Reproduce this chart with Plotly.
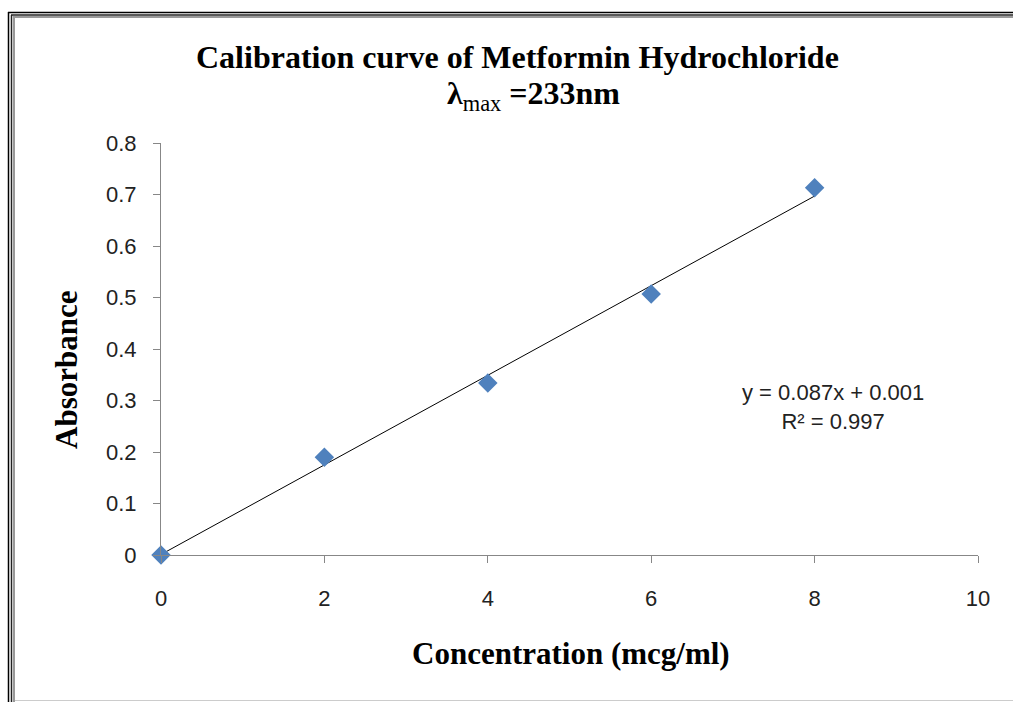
import plotly.graph_objects as go

# ---- data ----
concentration = [0, 2, 4, 6, 8]
absorbance = [0.0, 0.190, 0.334, 0.507, 0.713]
fit_slope = 0.087
fit_intercept = 0.001
fit_x = [0, 8]
x_ticks = [0, 2, 4, 6, 8, 10]
y_ticks = [0, 0.1, 0.2, 0.3, 0.4, 0.5, 0.6, 0.7, 0.8]
y_tick_labels = ["0", "0.1", "0.2", "0.3", "0.4", "0.5", "0.6", "0.7", "0.8"]
equation_text = "y = 0.087x + 0.001<br>R² = 0.997"

W, H = 1013, 702
L, R, T, B = 161, 35, 143, 147
PW, PH = W - L - R, H - T - B


def px(x):
    return (x - L) / PW


def py(y):
    return (H - B - y) / PH


fig = go.Figure()

fig.add_trace(go.Scatter(
    x=fit_x,
    y=[fit_slope * v + fit_intercept for v in fit_x],
    mode="lines",
    line=dict(color="#000000", width=1),
    hoverinfo="skip",
    showlegend=False,
))

fig.add_trace(go.Scatter(
    x=concentration, y=absorbance, mode="markers",
    marker=dict(symbol="diamond", size=15, color="#4F81BD",
                line=dict(width=0)),
    cliponaxis=False,
    showlegend=False,
))

axis_color = "#878787"
tick_font = dict(family="Liberation Sans", size=22, color="#222222")

fig.update_xaxes(
    range=[0, 10], tickvals=x_ticks, ticktext=[str(v) for v in x_ticks],
    showgrid=False, zeroline=False, showline=True, linecolor=axis_color,
    linewidth=1, ticks="outside", ticklen=7, tickcolor=axis_color,
    tickfont=tick_font, ticklabelstandoff=17,
)
fig.update_yaxes(
    range=[0, 0.8], tickvals=y_ticks, ticktext=y_tick_labels,
    showgrid=False, zeroline=False, showline=True, linecolor=axis_color,
    linewidth=1, ticks="outside", ticklen=7, tickcolor=axis_color,
    tickfont=tick_font, ticklabelstandoff=12,
)

serif_bold = dict(family="Liberation Serif", size=32, color="#000000", weight="bold")

annotations = [
    dict(text="Calibration curve of Metformin Hydrochloride",
         x=px(517), y=py(57), xref="paper", yref="paper",
         showarrow=False, font=serif_bold, xanchor="center", yanchor="middle"),
    dict(text="λ<sub><span style='font-weight:normal'>max</span></sub> =233nm",
         x=px(533), y=py(95), xref="paper", yref="paper",
         showarrow=False, font=serif_bold, xanchor="center", yanchor="middle"),
    dict(text="Absorbance", textangle=-90,
         x=px(66), y=py(370), xref="paper", yref="paper",
         showarrow=False, font=dict(serif_bold, size=31),
         xanchor="center", yanchor="middle"),
    dict(text="Concentration (mcg/ml)",
         x=px(571), y=py(653), xref="paper", yref="paper",
         showarrow=False, font=dict(serif_bold, size=31),
         xanchor="center", yanchor="middle"),
    dict(text=equation_text,
         x=px(833), y=py(407), xref="paper", yref="paper",
         showarrow=False, align="center",
         font=dict(family="Liberation Sans", size=22, color="#222222"),
         xanchor="center", yanchor="middle"),
]

shapes = [
    # outer black frame line
    dict(type="line", xref="paper", yref="paper", x0=px(8), x1=px(1020),
         y0=py(12.5), y1=py(12.5), line=dict(color="#000000", width=1.5)),
    dict(type="line", xref="paper", yref="paper", x0=px(8.5), x1=px(8.5),
         y0=py(12), y1=py(710), line=dict(color="#000000", width=1.5)),
    # inner black line
    dict(type="line", xref="paper", yref="paper", x0=px(11), x1=px(1020),
         y0=py(15), y1=py(15), line=dict(color="#222222", width=1.5)),
    dict(type="line", xref="paper", yref="paper", x0=px(11.5), x1=px(11.5),
         y0=py(15), y1=py(710), line=dict(color="#222222", width=1.5)),
    # gray inner line
    dict(type="line", xref="paper", yref="paper", x0=px(13), x1=px(1020),
         y0=py(17), y1=py(17), line=dict(color="#9a9a9a", width=2)),
    dict(type="line", xref="paper", yref="paper", x0=px(14), x1=px(14),
         y0=py(17), y1=py(710), line=dict(color="#9a9a9a", width=2)),
    # bottom light line
    dict(type="line", xref="paper", yref="paper", x0=px(15), x1=px(1020),
         y0=py(700.5), y1=py(700.5), line=dict(color="#cccccc", width=1)),
]

fig.update_layout(
    width=W, height=H,
    margin=dict(l=L, r=R, t=T, b=B, autoexpand=False),
    paper_bgcolor="#ffffff", plot_bgcolor="#ffffff",
    annotations=annotations, shapes=shapes,
    showlegend=False,
)

fig.write_html("out.html")
